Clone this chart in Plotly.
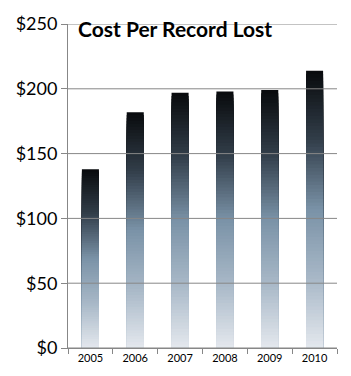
import plotly.graph_objects as go
import numpy as np

years = ["2005", "2006", "2007", "2008", "2009", "2010"]
cost = [138, 182, 197, 198, 199, 214]
y_ticks = [0, 50, 100, 150, 200, 250]
y_tick_text = ["$0", "$50", "$100", "$150", "$200", "$250"]
title_text = "Cost Per Record Lost"

# gradient stops (fraction from bottom -> color)
stops = [(0.0, (228, 232, 238)), (0.25, (168, 184, 199)), (0.5, (122, 146, 167)),
         (0.75, (50, 62, 74)), (1.0, (8, 10, 12))]

def grad(f):
    for (f0, c0), (f1, c1) in zip(stops[:-1], stops[1:]):
        if f0 <= f <= f1:
            t = (f - f0) / (f1 - f0)
            c = [round(a + (b - a) * t) for a, b in zip(c0, c1)]
            return "rgb(%d,%d,%d)" % tuple(c)
    return "rgb(8,10,12)"

N = 80
vals = np.array(cost, dtype=float)
fig = go.Figure()
for i in range(N):
    frac = (N - i) / N
    fig.add_trace(go.Bar(
        x=years, y=vals * frac,
        marker=dict(color=grad(frac - 0.5 / N), line=dict(width=0)),
        showlegend=False, hoverinfo="skip",
    ))

for v in y_ticks:
    fig.add_shape(type="line", xref="paper", x0=0, x1=1, yref="y", y0=v, y1=v,
                  line=dict(color="#878787", width=1), layer="above")

fig.add_annotation(text="<b>" + title_text + "</b>", xref="paper", yref="paper",
                   x=0.03, y=1.03, xanchor="left", yanchor="top", showarrow=False,
                   font=dict(size=21, color="black", family="Lato"))

fig.update_layout(
    width=351, height=376, barmode="overlay", bargap=0.62,
    margin=dict(l=68, r=14, t=17, b=26),
    paper_bgcolor="white", plot_bgcolor="white",
    font=dict(family="Lato", color="black"),
    xaxis=dict(type="category", tickson="boundaries", ticks="outside", ticklen=5,
               tickcolor="#878787", showline=True, linecolor="#878787",
               tickfont=dict(size=11), showgrid=False),
    yaxis=dict(range=[0, 250], tickvals=y_ticks, ticktext=y_tick_text, ticks="outside",
               ticklen=6, tickcolor="#878787", showline=True, linecolor="#878787",
               showgrid=False, tickfont=dict(size=18), layer="above traces", zeroline=False),
)
fig.write_html("out.html")
